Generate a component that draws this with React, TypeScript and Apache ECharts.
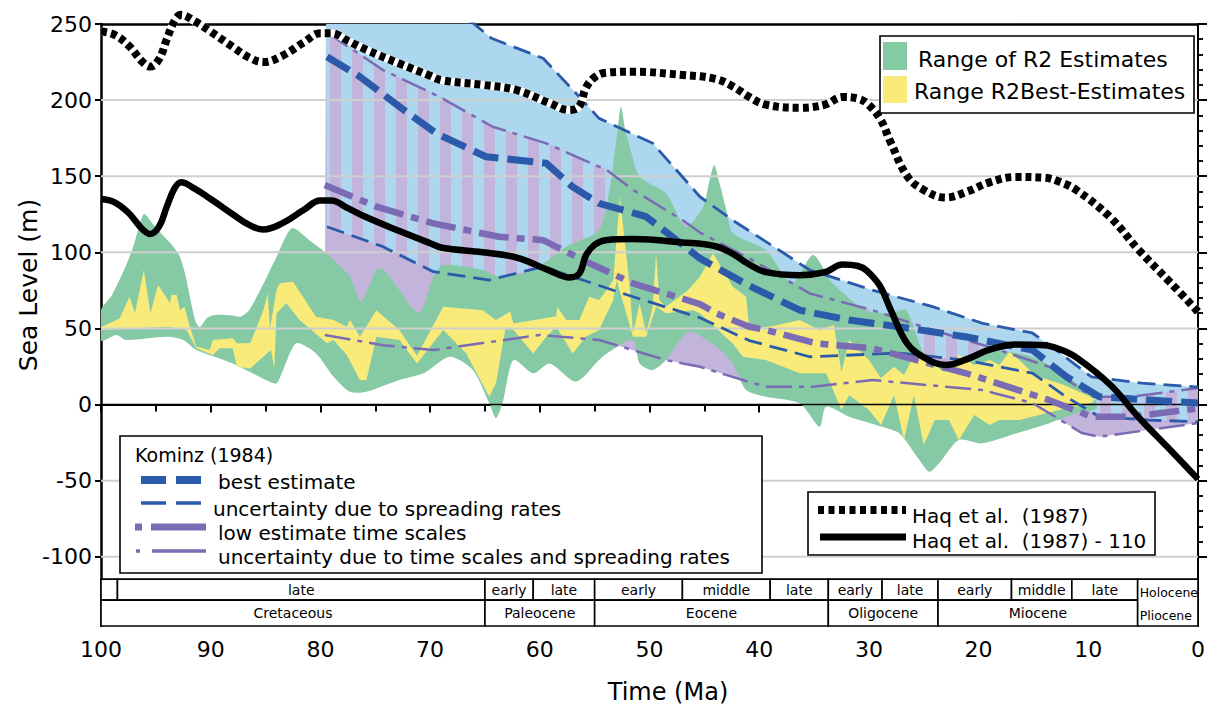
import React, { useEffect, useRef } from 'react';
import * as echarts from 'echarts';

const FONT = 'DejaVu Sans';
const GREEN = '#86CAA5';
const YELLOW = '#F8EB7A';
const LIGHT_BLUE = '#ACD7EE';
const LAVENDER = '#C2B4DA';
const DARK_BLUE = '#2C5AAA';
const PURPLE = '#7B6BB5';

const Y_MIN = -145.5;
const Y_MAX = 250;
const TS_TOP = -114.7;
const TS_MID = -128.5;

// Haq et al. (1987)  [Ma, m]
const haqLine: number[][] = [
  [100, 245], [98.8, 243], [97.5, 236], [96.2, 225], [95.5, 222], [94.7, 227], [94, 240], [93.3, 252],
  [92.7, 256], [91.5, 252], [90, 245], [88, 235], [86.5, 228], [85.2, 225], [83.5, 229], [81.5, 238],
  [80, 244], [79, 244], [77.5, 239], [75.8, 233], [72.8, 224], [70, 216], [68.9, 213], [65.2, 210],
  [62.1, 206.5], [59.1, 198], [57.3, 193.5], [56.4, 196], [55.8, 208], [55, 215], [54, 218], [51.5, 218.7],
  [47, 216.5], [44, 214], [42.4, 209], [40.9, 202], [39.4, 197], [36.3, 195], [34, 197], [32.4, 202],
  [31, 201], [30.2, 198], [29, 188], [28, 172], [26.5, 150], [25, 141], [23, 136], [21, 140], [19, 146],
  [16.6, 149.5], [14, 149], [12.5, 146], [11.1, 141], [8, 123], [5.4, 101.5], [2.5, 80], [0, 61],
];
// Haq et al. (1987) - 110
const haqMinus110: number[][] = [
  [100, 135], [98.8, 133], [97.5, 126], [96.2, 115], [95.5, 112], [94.7, 117], [94, 130], [93.3, 142],
  [92.7, 146], [91.5, 142], [90, 135], [88, 125], [86.5, 118], [85.2, 115], [83.5, 119], [81.5, 128],
  [80, 134], [79, 134], [77.5, 129], [75.8, 123], [72.8, 114], [70, 106], [68.9, 103], [65.2, 100],
  [62.1, 96.5], [59.1, 88], [57.3, 83.5], [56.4, 86], [55.8, 98], [55, 105], [54, 108], [51.5, 108.7],
  [47, 106.5], [44, 104], [42.4, 99], [40.9, 92], [39.4, 87], [36.3, 85], [34, 87], [32.4, 92],
  [31, 91], [30.2, 88], [29, 78], [28, 62], [26.5, 40], [25, 31], [23, 26], [21, 30], [19, 36],
  [16.6, 39.5], [14, 39], [12.5, 36], [11.1, 31], [8, 13], [5.4, -8.5], [2.5, -30], [0, -49],
];

// Kominz (1984)
const bestEstimate: number[][] = [
  [79.4, 228.5], [76.4, 215.4], [72.8, 195.7], [69.4, 178], [64.9, 162.8], [59.4, 158.5], [57, 143],
  [54.6, 132.2], [50.3, 123.4], [47.9, 110], [45.4, 96], [40.9, 78], [36.3, 62], [31.8, 55.5], [27.2, 51],
  [21.2, 44.5], [15.1, 35.8], [12, 18.3], [9, 5.1], [4.5, 3], [0, 1],
];
const spreadUpper: number[][] = [
  [79.5, 290], [68, 262], [64.4, 240.6], [59.7, 227.5], [56.7, 204.5], [54.6, 188], [49.7, 171.6],
  [45.4, 136.5], [42.4, 121], [38.2, 101.5], [35.4, 88.4], [29.7, 75.2], [24.2, 64.3], [19.7, 53.5],
  [15.1, 47], [13.3, 37.8], [9.7, 18.1], [5.1, 14], [0, 11.5],
];
const spreadLower: number[][] = [
  [79.4, 116.8], [74.3, 103.7], [69.7, 87.3], [64.6, 81.8], [59.7, 90.5], [56.1, 81.8], [51.5, 70.8],
  [45.4, 57], [40.9, 42], [35.4, 31.4], [27.2, 33.8], [21.2, 29.2], [15.1, 20.6], [12, 5], [9, -8],
  [4.5, -10.2], [0, -11.3],
];
const lowEstimate: number[][] = [
  [79.6, 144.2], [74.9, 130], [69.7, 119], [63.7, 110.2], [59.7, 108], [56.1, 95], [51.5, 79.6],
  [45.4, 66], [43.9, 59.9], [40.9, 51.1], [39.4, 49], [34.8, 40.2], [29.7, 36.9], [21.2, 20.7],
  [13.6, 3], [9.7, -8], [6, -8], [0, -2.5],
];
const timeUpper: number[][] = [
  [79.5, 245], [74.3, 219.8], [69.1, 202], [64.3, 182.5], [59.4, 171.6], [53.9, 154], [51.5, 141],
  [47, 121.2], [45.4, 113], [40.9, 96], [35.4, 73], [29.7, 62], [24.2, 49], [18.1, 35.8], [13.6, 24.8],
  [9.7, 5.1], [6.1, 5.1], [0, 10.8],
];
const timeLower: number[][] = [
  [79.6, 45.7], [74.3, 39], [69.7, 35.8], [60, 45.7], [54.6, 42.4], [48.5, 29.2], [45.4, 24.8],
  [41.5, 16.1], [39.4, 11.7], [35.1, 11.7], [29.7, 16.1], [19.7, 9.5], [15.1, 1], [10.6, -18.7],
  [9, -21.2], [0, -12.2],
];

// Range of R2 Estimates
const r2RangeUpper: number[][] = [
  [100, 62], [99, 72], [97.8, 90], [97, 105], [96.1, 125], [95.2, 118], [94.2, 110], [93.4, 103.7],
  [92.8, 97], [92.3, 85], [91.9, 71], [91.4, 55], [91, 51], [90.3, 57], [89.5, 59], [88, 58.5],
  [87.3, 57.7], [86.5, 62], [85.5, 75], [84, 97], [82.6, 115.8], [81, 108], [79.4, 99], [77.3, 84],
  [76.3, 67.5], [74.9, 88.4], [74.3, 89], [72.8, 75], [71, 60], [69.7, 84], [68.8, 91.7], [65.2, 88.4],
  [63.7, 84], [60.6, 88.4], [57.6, 103.7], [54.6, 114.7], [53.6, 143], [53, 175], [52.6, 195.7],
  [52.2, 180], [51.8, 169.4], [50.9, 149.7], [48.5, 138.8], [46.7, 116.8], [45.1, 130], [44.6, 145],
  [44.1, 157.4], [43.6, 145], [43, 128], [42.4, 112.5], [39.4, 101.5], [37, 79.6], [35.1, 98.2],
  [33.3, 79.6], [30.3, 62], [28, 60], [26.6, 62], [24.8, 31.4], [22.7, 27], [19.7, 35.8], [15.1, 31.4],
  [12, 18.3], [10.6, 11.7], [9.3, 2],
];
const r2RangeLower: number[][] = [
  [100, 42], [98.6, 45.7], [97.7, 42.4], [94, 44.5], [92.5, 42.4], [91.3, 35.8], [88, 27], [84.9, 16],
  [84, 13.9], [83.4, 22.7], [82.2, 40.2], [80.4, 33.6], [78.8, 18.3], [77.3, 8.4], [75.8, 8.4],
  [72.8, 16.1], [70.6, 20.5], [68.2, 31.4], [66.1, 22.7], [64.6, 0.8], [64, -9], [63.4, 0.8],
  [62.4, 29.2], [60.6, 20.5], [59.1, 27], [56.7, 15], [54.6, 29.2], [53.9, 33.6], [51.5, 42.4],
  [50.9, 27], [49.7, 22.7], [48.5, 29.2], [46.4, 47.8], [43.9, 38], [42.4, 27], [41.2, 9.5],
  [39.4, 5.1], [36.3, 0.8], [34.5, -14.6], [33.9, -1.4], [31.8, -8], [28.8, -14.6], [27.2, -19],
  [25.4, -36.5], [24.5, -44.2], [23.6, -38.6], [21.8, -23.3], [19.7, -25.5], [16.6, -19],
  [13.6, -12.4], [11.1, -5.8], [9.3, -3],
];

// Range R2 Best-Estimates
const r2BestUpper: number[][] = [
  [100, 51], [98.3, 56.6], [97.4, 70.8], [96.9, 59.9], [96.1, 88.4], [95.5, 59.9], [94.8, 78.5],
  [93.7, 66.5], [93.6, 71.9], [93.1, 71.9], [92.8, 62], [92.4, 64.3], [91.9, 51.1], [91.3, 38],
  [90.1, 35.8], [89.8, 42.4], [88, 43.5], [87.6, 40.2], [86.4, 40.2], [85.2, 62], [84.8, 73],
  [84.6, 50], [84, 75.2], [83.7, 79.6], [82.5, 80.7], [80.4, 57.7], [78.8, 55.5], [77.6, 51.1],
  [77.3, 55.5], [76.4, 44.5], [74.9, 62], [72.8, 48.9], [71.2, 32], [68.8, 64.2], [65.2, 62],
  [64, 55.5], [62.7, 61], [62.4, 53.3], [58.5, 58], [58.4, 64.2], [57.6, 55.5], [56.4, 55.5],
  [55.5, 70.8], [54.6, 68.7], [53.9, 75.2], [53.3, 81.8], [52.7, 136.5], [51.8, 77.4], [51.5, 46.7],
  [50.9, 66.5], [50.3, 46.7], [49.7, 64.3], [49.4, 99.3], [49.1, 68.7], [48.5, 64.3], [46.5, 75],
  [45.4, 84], [44.2, 99.3], [42.4, 77.4], [41.2, 70.8], [40.9, 48.9], [38.5, 52], [36.3, 55.5],
  [34.5, 48.9], [33.2, 52.2], [32.5, 21.4], [31.8, 42.4], [30, 29.2], [28.9, 17.5], [27.7, 24.8],
  [26.8, 19.4], [25.9, 32.5], [24.7, 29.2], [23.1, 21.4], [21.8, 32.5], [20.4, 25.9], [19, 29.2],
  [18.1, 25.9], [17.2, 34.5], [16.1, 27.9], [14.9, 19.4], [13.6, 16.1], [12.2, 12.8], [10.8, 8.2],
  [9.5, 4.3],
];
const r2BestLower: number[][] = [
  [100, 48.9], [94, 51.1], [92.2, 48.9], [91.3, 36.9], [89.8, 32.5], [89.2, 36.9], [88, 36.9],
  [87.6, 24.8], [86.4, 23.7], [85.2, 31.4], [84.5, 35.8], [84.2, 23.7], [84, 60], [83.1, 66.5],
  [81.9, 55.5], [79.4, 40.2], [78.8, 42.4], [77.6, 32.5], [76.4, 16.1], [75.8, 16.1], [74.9, 44.5],
  [72.8, 42.4], [71.2, 27], [68.8, 48.9], [66.7, 33.6], [64.6, 5.1], [64, 13.9], [63.1, 51.1],
  [62.4, 48.9], [60.6, 33.6], [59.4, 44.5], [58.5, 51.1], [57, 33.6], [55.8, 44.5], [54.6, 48.9],
  [53.3, 68.7], [53, 81.8], [51.5, 44.5], [50.3, 44.5], [49.4, 64.2], [48.5, 60], [46, 62], [45.4, 60],
  [42.4, 40], [41.5, 31.4], [39.4, 29.2], [36.3, 20.5], [33.9, 20.5], [32.5, -3.6], [31.8, 6.2],
  [30, -3.6], [28.9, -13.5], [27.7, 6.2], [26.8, -23.3], [25.9, 6.2], [25, -26.6], [24, -10.2],
  [22.7, -10.2], [21.8, -23.3], [20.4, -6.9], [19, -13.5], [18.1, -10.2], [16.3, -10.2], [14.5, -6.9],
  [12.7, -3.6], [10.8, -1], [9.5, 1.6],
];

const gridValues = [-100, -50, 50, 100, 150, 200];
const zeroLine = [0];
const yLabelValues = [-100, -50, 0, 50, 100, 150, 200, 250];
const yMinorValues = [
  -100, -90, -80, -70, -60, -50, -40, -30, -20, -10, 0, 10, 20, 30, 40, 50, 60, 70, 80, 90, 100,
  110, 120, 130, 140, 150, 160, 170, 180, 190, 200, 210, 220, 230, 240, 250,
];

// Geological time scale
const stageEdges = [100, 98.5, 65, 60.6, 55, 47, 39, 33.7, 28.8, 23.7, 17, 11.5, 5.5];
const stageNames = ['', 'late', 'early', 'late', 'early', 'middle', 'late', 'early', 'late', 'early', 'middle', 'late'];
const epochEdges = [100, 65, 55, 33.7, 23.7, 5.5];
const epochNames = ['Cretaceous', 'Paleocene', 'Eocene', 'Oligocene', 'Miocene'];
const recentEdges = [5.5, 0];
const recentNames = ['Holocene', 'Pliocene'];

function toPts(api: any, upper: number[][], lower: number[][]) {
  return [
    ...upper.map((p) => api.coord(p)),
    ...lower.slice().reverse().map((p) => api.coord(p)),
  ];
}

function polySeries(upper: number[][], lower: number[][], fill: any, smooth: number, z: number) {
  return {
    type: 'custom',
    coordinateSystem: 'cartesian2d',
    clip: true,
    silent: true,
    z,
    data: [[50, 0]],
    renderItem: (_p: any, api: any) => ({
      type: 'polygon',
      shape: { points: toPts(api, upper, lower), smooth },
      style: { fill, stroke: 'none' },
    }),
  };
}

function lineSeries(data: number[][], color: string, width: number, dash: any, z: number, smooth: number | boolean = false, clip = true) {
  return {
    type: 'line',
    data,
    symbol: 'none',
    showSymbol: false,
    smooth,
    clip,
    silent: true,
    z,
    lineStyle: { color, width, type: dash, cap: 'butt', join: 'round' },
  };
}

export default function App() {
  const ref = useRef<HTMLDivElement>(null);

  useEffect(() => {
    if (!ref.current) return;
    const chart = echarts.init(ref.current, null, { renderer: 'svg' });

    const canvas = document.createElement('canvas');
    canvas.width = 22;
    canvas.height = 4;
    const ctx = canvas.getContext('2d');
    if (ctx) {
      ctx.fillStyle = LAVENDER;
      ctx.fillRect(0, 0, 11, 4);
      ctx.fillStyle = LIGHT_BLUE;
      ctx.fillRect(11, 0, 11, 4);
    }
    const stripe = { image: canvas, repeat: 'repeat', imageWidth: 22, imageHeight: 4 };

    const tsData: number[][] = [
      ...stageNames.map((_, i) => [stageEdges[i], stageEdges[i + 1], 0, i]),
      ...epochNames.map((_, i) => [epochEdges[i], epochEdges[i + 1], 1, i]),
      [recentEdges[0], recentEdges[1], 2, 0],
    ];

    const axisFont = { fontFamily: FONT, color: '#000' };

    const option: any = {
      animation: false,
      backgroundColor: '#fff',
      grid: { left: 101, right: 9, top: 24, bottom: 80, containLabel: false },
      xAxis: [
        {
          type: 'value', min: 0, max: 100, interval: 10, inverse: true, position: 'bottom',
          axisLine: { show: true, lineStyle: { color: '#000', width: 2 } },
          axisTick: { show: true, length: 8, lineStyle: { color: '#000', width: 2 } },
          minorTick: { show: true, splitNumber: 2, length: 7, lineStyle: { color: '#000', width: 2 } },
          axisLabel: { ...axisFont, fontSize: 22, margin: 12 },
          splitLine: { show: false },
          minorSplitLine: { show: false },
        },
        {
          type: 'value', min: 0, max: 100, inverse: true, position: 'top',
          axisLine: { show: true, onZero: false, lineStyle: { color: '#000', width: 2.5 } },
          axisTick: { show: false }, axisLabel: { show: false }, splitLine: { show: false },
        },
      ],
      yAxis: [
        {
          type: 'value', min: Y_MIN, max: Y_MAX, position: 'left',
          axisLine: { show: true, onZero: false, lineStyle: { color: '#000', width: 2.5 } },
          axisTick: { show: true, inside: false, length: 6, customValues: yLabelValues, lineStyle: { color: '#000', width: 2 } },
          axisLabel: { ...axisFont, fontSize: 22, margin: 9, customValues: yLabelValues },
          splitLine: { show: false },
        },
        {
          type: 'value', min: Y_MIN, max: Y_MAX, position: 'left',
          axisLine: { show: false },
          axisTick: { show: true, inside: true, length: 5, customValues: yMinorValues, lineStyle: { color: '#000', width: 1.5 } },
          axisLabel: { show: false }, splitLine: { show: false },
        },
        {
          type: 'value', min: Y_MIN, max: Y_MAX, position: 'right',
          axisLine: { show: true, onZero: false, lineStyle: { color: '#000', width: 2 } },
          axisTick: { show: true, inside: false, length: 5, customValues: yMinorValues, lineStyle: { color: '#000', width: 1.5 } },
          axisLabel: { show: false }, splitLine: { show: false },
        },
        {
          type: 'value', min: Y_MIN, max: Y_MAX, position: 'right',
          axisLine: { show: false },
          axisTick: { show: true, inside: false, length: 9, customValues: yLabelValues, lineStyle: { color: '#000', width: 2 } },
          axisLabel: { show: false }, splitLine: { show: false },
        },
      ],
      series: [
        // Kominz ranges
        polySeries(spreadUpper, spreadLower, LIGHT_BLUE, 0, 1),
        polySeries(timeUpper, timeLower, LAVENDER, 0, 1),
        {
          type: 'custom', coordinateSystem: 'cartesian2d', clip: true, silent: true, z: 1,
          data: [[50, 0]],
          renderItem: (_p: any, api: any) => ({
            type: 'group',
            clipPath: { type: 'polygon', shape: { points: toPts(api, spreadUpper, spreadLower) } },
            children: [
              {
                type: 'polygon',
                shape: { points: toPts(api, timeUpper, timeLower) },
                style: { fill: stripe, stroke: 'none' },
              },
            ],
          }),
        },
        // R2 ranges
        polySeries(r2RangeUpper, r2RangeLower, GREEN, 0.25, 1),
        polySeries(r2BestUpper, r2BestLower, YELLOW, 0, 1),
        // grid lines
        {
          type: 'custom', coordinateSystem: 'cartesian2d', silent: true, z: 2,
          data: [...gridValues.map((v) => [0, v, 0]), ...zeroLine.map((v) => [0, v, 1])],
          renderItem: (_p: any, api: any) => {
            const v = api.value(1);
            const isZero = api.value(2) === 1;
            const a = api.coord([100, v]);
            const b = api.coord([0, v]);
            return {
              type: 'line',
              shape: { x1: a[0], y1: a[1], x2: b[0], y2: b[1] },
              style: { stroke: isZero ? '#000' : '#CFCFCF', lineWidth: isZero ? 1.6 : 2 },
            };
          },
        },
        // Kominz lines
        lineSeries(timeUpper, PURPLE, 2.5, [26, 7, 5, 7], 3),
        lineSeries(timeLower, PURPLE, 2.5, [26, 7, 5, 7], 3),
        lineSeries(spreadUpper, DARK_BLUE, 2.8, [18, 8], 3),
        lineSeries(spreadLower, DARK_BLUE, 2.8, [18, 8], 3),
        lineSeries(lowEstimate, PURPLE, 6.5, [30, 8, 8, 8], 3),
        lineSeries(bestEstimate, DARK_BLUE, 7, [26, 9], 3),
        // Haq
        lineSeries(haqMinus110, '#000', 6.5, 'solid', 4, 0.4),
        lineSeries(haqLine, '#fff', 8, 'solid', 4, 0.4, false),
        lineSeries(haqLine, '#000', 8, [6, 4], 4, 0.4, false),
        // time scale
        {
          type: 'custom', coordinateSystem: 'cartesian2d', silent: true, z: 5, clip: false,
          data: tsData,
          renderItem: (_p: any, api: any) => {
            const s = api.value(0);
            const e = api.value(1);
            const row = api.value(2);
            const idx = api.value(3);
            const yT = row === 1 ? TS_MID : TS_TOP;
            const yB = row === 0 ? TS_MID : Y_MIN;
            const a = api.coord([s, yT]);
            const b = api.coord([e, yB]);
            const x = Math.min(a[0], b[0]);
            const w = Math.abs(b[0] - a[0]);
            const y = a[1];
            const h = b[1] - a[1];
            const children: any[] = [
              { type: 'rect', shape: { x, y, width: w, height: h }, style: { fill: '#fff', stroke: '#000', lineWidth: 1.6 } },
            ];
            if (row === 2) {
              children.push({ type: 'text', x: x + 2, y: y + h * 0.28, style: { text: recentNames[0], fontSize: 12.5, fontFamily: FONT, fill: '#000', align: 'left', verticalAlign: 'middle' } });
              children.push({ type: 'text', x: x + 2, y: y + h * 0.78, style: { text: recentNames[1], fontSize: 12.5, fontFamily: FONT, fill: '#000', align: 'left', verticalAlign: 'middle' } });
            } else {
              const label = row === 0 ? stageNames[idx] : epochNames[idx];
              if (label) {
                children.push({ type: 'text', x: x + w / 2, y: y + h / 2, style: { text: label, fontSize: 14, fontFamily: FONT, fill: '#000', align: 'center', verticalAlign: 'middle' } });
              }
            }
            return { type: 'group', children };
          },
        },
      ],
      graphic: [
        { type: 'text', x: 28, y: 285, rotation: Math.PI / 2, z: 100, style: { text: 'Sea Level (m)', fontSize: 25, fontFamily: FONT, fill: '#000', align: 'center', verticalAlign: 'middle' } },
        { type: 'text', x: 668, y: 692, z: 100, style: { text: 'Time (Ma)', fontSize: 24, fontFamily: FONT, fill: '#000', align: 'center', verticalAlign: 'middle' } },
        // R2 legend
        { type: 'rect', z: 100, shape: { x: 880, y: 36, width: 314, height: 77 }, style: { fill: '#fff', stroke: '#000', lineWidth: 1.6 } },
        { type: 'rect', z: 101, shape: { x: 883, y: 42, width: 24, height: 28 }, style: { fill: GREEN } },
        { type: 'rect', z: 101, shape: { x: 883, y: 76, width: 24, height: 27 }, style: { fill: YELLOW } },
        { type: 'text', z: 101, x: 918, y: 59, style: { text: 'Range of R2 Estimates', fontSize: 22, fontFamily: FONT, fill: '#000', align: 'left', verticalAlign: 'middle' } },
        { type: 'text', z: 101, x: 914, y: 91, style: { text: 'Range R2Best-Estimates', fontSize: 22, fontFamily: FONT, fill: '#000', align: 'left', verticalAlign: 'middle' } },
        // Kominz legend
        { type: 'rect', z: 100, shape: { x: 120, y: 436, width: 642, height: 137 }, style: { fill: '#fff', stroke: '#000', lineWidth: 1.6 } },
        { type: 'text', z: 101, x: 135, y: 455, style: { text: 'Kominz (1984)', fontSize: 19, fontFamily: FONT, fill: '#000', align: 'left', verticalAlign: 'middle' } },
        { type: 'line', z: 101, shape: { x1: 141, y1: 480, x2: 206, y2: 480 }, style: { stroke: DARK_BLUE, lineWidth: 8, lineDash: [25, 10] } },
        { type: 'text', z: 101, x: 218, y: 482, style: { text: 'best estimate', fontSize: 20, fontFamily: FONT, fill: '#000', align: 'left', verticalAlign: 'middle' } },
        { type: 'line', z: 101, shape: { x1: 141, y1: 503, x2: 206, y2: 503 }, style: { stroke: DARK_BLUE, lineWidth: 3.5, lineDash: [25, 10] } },
        { type: 'text', z: 101, x: 213, y: 509, style: { text: 'uncertainty due to spreading rates', fontSize: 20, fontFamily: FONT, fill: '#000', align: 'left', verticalAlign: 'middle' } },
        { type: 'line', z: 101, shape: { x1: 135, y1: 527, x2: 206, y2: 527 }, style: { stroke: PURPLE, lineWidth: 7, lineDash: [7, 9, 60, 0] } },
        { type: 'text', z: 101, x: 218, y: 533, style: { text: 'low estimate time scales', fontSize: 20, fontFamily: FONT, fill: '#000', align: 'left', verticalAlign: 'middle' } },
        { type: 'line', z: 101, shape: { x1: 136, y1: 551, x2: 206, y2: 551 }, style: { stroke: PURPLE, lineWidth: 3.5, lineDash: [4, 12, 60, 0] } },
        { type: 'text', z: 101, x: 218, y: 557, style: { text: 'uncertainty due to time scales and spreading rates', fontSize: 20, fontFamily: FONT, fill: '#000', align: 'left', verticalAlign: 'middle' } },
        // Haq legend
        { type: 'rect', z: 100, shape: { x: 808, y: 492, width: 347, height: 63 }, style: { fill: '#fff', stroke: '#000', lineWidth: 1.6 } },
        { type: 'line', z: 101, shape: { x1: 818, y1: 510, x2: 906, y2: 510 }, style: { stroke: '#000', lineWidth: 8, lineDash: [6, 4.5] } },
        { type: 'text', z: 101, x: 912, y: 516, style: { text: 'Haq et al.  (1987)', fontSize: 20, fontFamily: FONT, fill: '#000', align: 'left', verticalAlign: 'middle' } },
        { type: 'line', z: 101, shape: { x1: 820, y1: 537, x2: 906, y2: 537 }, style: { stroke: '#000', lineWidth: 7 } },
        { type: 'text', z: 101, x: 912, y: 541, style: { text: 'Haq et al.  (1987) - 110', fontSize: 20, fontFamily: FONT, fill: '#000', align: 'left', verticalAlign: 'middle' } },
      ],
    };

    chart.setOption(option);
    return () => chart.dispose();
  }, []);

  return (
    <div
      ref={ref}
      style={{ position: 'fixed', left: 0, top: 0, width: 1208, height: 706, background: '#fff' }}
    />
  );
}
